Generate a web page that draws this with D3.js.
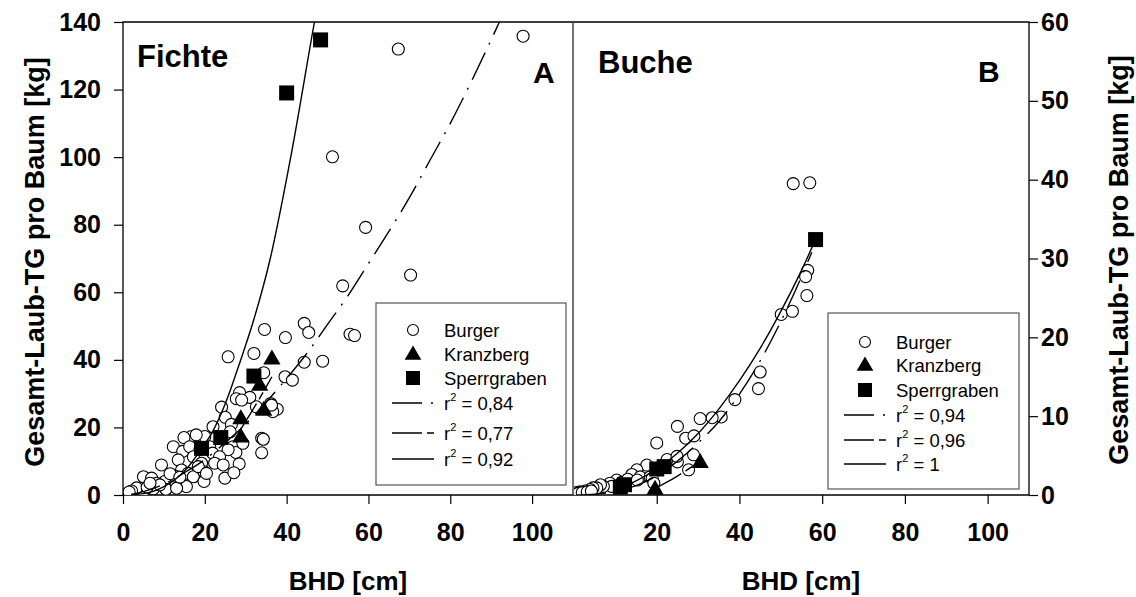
<!DOCTYPE html>
<html>
<head>
<meta charset="utf-8">
<script src="https://cdn.jsdelivr.net/npm/d3@7"></script>
<style>
  body { margin: 0; background: #fff; }
  svg { display: block; font-family: "Liberation Sans", Arial, sans-serif; }
</style>
</head>
<body>
<svg id="chart" width="1136" height="597"></svg>
<script>
// Fichte (A) — BHD [cm], Gesamt-Laub-TG [kg]
var fichteBurger = [
  [67.3,132],[97.8,135.8],[51.2,100.1],[59.3,79.2],[70.3,65.1],[53.7,61.9],
  [34.6,49],[44.3,50.8],[45.4,48.1],[39.7,46.6],[55.5,47.6],[56.6,47.2],
  [25.7,40.9],[32,41.9],[44.3,39.3],[48.8,39.6],[39.6,35],[41.4,34],[34.4,36.2],
  [33.9,16.8],[34.3,16.5],[33.9,12.5],[36.1,27.1],[37.7,25.4],[36.6,24.7],
  [24.1,26],[28.5,30.3],[27.7,28.5],[31,28.9],[29,28.1],[32.6,26.1],[36.3,26.6],
  [25,23],[22,20.2],[26.5,20.9],[20,17.3],[16.7,17.3],[17.9,17.8],[14.9,17],
  [12.3,14.3],[14.6,12.9],[16.3,14.3],[21.2,14.3],[18.8,13.4],[21.9,12.4],
  [26.9,14.3],[27.6,12.6],[25.7,13.4],[29.3,15.3],[26.2,18.7],[23.6,11.3],[17.2,11.3],
  [19.2,9.4],[22.4,9.4],[24.5,8.9],[28.4,9.2],[9.4,8.9],[13.5,10.4],[14.3,7.4],
  [15.9,6.4],[17.2,5.4],[19.8,6.9],[24.9,5],[27.1,6.6],[19.8,4],[15.5,2.5],
  [12.3,3],[12.7,5.6],[10.2,4],[5,5.4],[7,5],[8.2,3.5],[7.4,1.8],[4.8,0.8],
  [3.3,2.1],[2.1,1.2],[1.5,0.9],[5.9,2.3],[10.5,1.7],[13.1,2],[9,3],[11.5,6.3],
  [6.6,3.5],[13.9,5.3],[18.4,8.4],[20.4,6.4]
];
var fichteKranzberg = [[28.8,17.3],[28.8,22.7],[33.4,32.6],[34.4,25.2],[36.4,40.4]];
var fichteSperrgraben = [[19.2,13.8],[23.9,17],[32,35.2],[40,119],[48.3,134.7]];

var fichteFitBurger = [[2,0.2],[5,1],[10,3.2],[15,6.6],[20,10.5],[25,15.5],[30,21],[35,27.5],
  [40,34.5],[45,42],[50,50.5],[55,59],[60,68.5],[65,78],[70,88],[75,99],[80,110],[85,122],[92,140],[95,148]];
var fichteFitKranzberg = [[28.8,19.5],[31,23.8],[33,27.8],[35,32],[36.4,35]];
var fichteFitSperrgraben = [[2,0.1],[5,0.4],[10,2.5],[15,7],[19,13.4],[22,19],[25,27],[28.5,39],
  [32,52],[36,70],[41,100],[46.8,140],[48,148]];

// Buche (B)
var bucheBurger = [
  [53,39.5],[57,39.6],[56.5,28.5],[56,27.7],[56.3,25.3],[50.1,22.9],[52.8,23.3],
  [45,15.6],[44.6,13.5],[38.9,12.1],[35.6,9.9],[33.4,9.8],[30.5,9.7],[25,8.7],
  [27,7.2],[29,7.5],[20,6.6],[28.9,5.1],[25,4.2],[22.5,4.5],[27.7,3.2],[17.6,3.8],
  [15.2,3.2],[14,2.6],[16,2.3],[18.4,2.3],[18.9,2.1],[19.3,1.5],[10.3,1.9],[8.7,1.5],
  [9.1,1.1],[7.1,1.1],[6.4,1.3],[5.5,0.9],[4.6,0.9],[3.9,0.7],[2.7,0.5],[1.5,0.4],
  [0.6,0.3],[1,0.2],[2,0.3],[3.2,0.4],[4.2,0.5],[11.5,1.6],[13,2],[15.3,1.9],[24.9,4.9]
];
var bucheKranzberg = [[19.6,0.8],[30.5,4.2]];
var bucheSperrgraben = [[11.2,1.0],[12.2,1.3],[20,3.3],[21.8,3.6],[58.4,32.4]];

var bucheFitBurger = [[0.5,0],[5,0.1],[10,0.45],[15,1.2],[20,2.4],[25,4.3],[30,6.6],[35,9.3],
  [40,12.8],[45,17],[50,22],[55,27.7],[57.5,30.8]];
var bucheFitKranzberg = [[19.6,0.85],[22,1.5],[25,2.4],[28,3.4],[30.7,4.3]];
var bucheFitSperrgraben = [[11,0.93],[15,1.8],[20,3.3],[25,5.3],[30,7.8],[35,10.9],[40,14.5],
  [45,18.6],[50,23.3],[55,28.5],[58.4,32.4]];

var xTicksA = [0, 20, 40, 60, 80, 100];
var xTicksB = [20, 40, 60, 80, 100];
var yTicksA = [0, 20, 40, 60, 80, 100, 120, 140];
var yTicksB = [0, 10, 20, 30, 40, 50, 60];

var legendNames = ['Burger', 'Kranzberg', 'Sperrgraben'];
var r2A = ['0,84', '0,77', '0,92'];
var r2B = ['0,94', '0,96', '1'];

var dashBurger = '30,9,2,9';
var dashKranz = '30,5,8,5';

var svg = d3.select('#chart');
var plotTop = 22, plotBottom = 495;

var xA = d3.scaleLinear().domain([0, 110]).range([123, 573]);
var yA = d3.scaleLinear().domain([0, 140]).range([plotBottom, plotTop]);
var xB = d3.scaleLinear().domain([0, 110]).range([574, 1029]);
var yB = d3.scaleLinear().domain([0, 60]).range([plotBottom, plotTop]);

var defs = svg.append('defs');
defs.append('clipPath').attr('id', 'clipA').append('rect')
  .attr('x', 123).attr('y', plotTop).attr('width', 450).attr('height', plotBottom - plotTop);
defs.append('clipPath').attr('id', 'clipB').append('rect')
  .attr('x', 574).attr('y', plotTop).attr('width', 455).attr('height', plotBottom - plotTop);

function styleAxis(g) {
  g.select('.domain').remove();
  g.selectAll('line').attr('stroke', '#000').attr('stroke-width', 1.2);
  g.selectAll('text').attr('font-size', 25).attr('font-weight', 'bold')
    .attr('fill', '#000').attr('font-family', '"Liberation Sans", Arial, sans-serif');
}

// axes
svg.append('g').attr('transform', 'translate(0,' + plotBottom + ')')
  .call(d3.axisBottom(xA).tickValues(xTicksA).tickSize(9).tickPadding(19).tickSizeOuter(0))
  .call(styleAxis);
svg.append('g').attr('transform', 'translate(0,' + plotBottom + ')')
  .call(d3.axisBottom(xB).tickValues(xTicksB).tickSize(9).tickPadding(19).tickSizeOuter(0))
  .call(styleAxis);
svg.append('g').attr('transform', 'translate(123,0)')
  .call(d3.axisLeft(yA).tickValues(yTicksA).tickSize(9).tickPadding(13).tickSizeOuter(0))
  .call(styleAxis);
svg.append('g').attr('transform', 'translate(1029,0)')
  .call(d3.axisRight(yB).tickValues(yTicksB).tickSize(9).tickPadding(3).tickSizeOuter(0))
  .call(styleAxis);

// frame
var frame = svg.append('g').attr('fill', 'none');
frame.append('path').attr('d', 'M123,' + plotTop + 'H1029V' + plotBottom + 'H123Z')
  .attr('stroke', '#000').attr('stroke-width', 1.3);
frame.append('line').attr('x1', 573).attr('x2', 573).attr('y1', plotTop).attr('y2', plotBottom)
  .attr('stroke', '#444').attr('stroke-width', 1.5);

function drawPanel(x, y, clipId, burger, kranz, sperr, fitB, fitK, fitS) {
  var g = svg.append('g').attr('clip-path', 'url(#' + clipId + ')');
  var line = d3.line().x(function(d) { return x(d[0]); }).y(function(d) { return y(d[1]); })
    .curve(d3.curveMonotoneX);

  g.selectAll('circle.burger').data(burger).enter().append('circle')
    .attr('class', 'burger')
    .attr('cx', function(d) { return x(d[0]); })
    .attr('cy', function(d) { return y(d[1]); })
    .attr('r', 6).attr('fill', '#fff').attr('stroke', '#000').attr('stroke-width', 1.1);

  g.append('path').datum(fitB).attr('d', line).attr('fill', 'none')
    .attr('stroke', '#000').attr('stroke-width', 1.4).attr('stroke-dasharray', dashBurger);
  g.append('path').datum(fitK).attr('d', line).attr('fill', 'none')
    .attr('stroke', '#000').attr('stroke-width', 1.4).attr('stroke-dasharray', dashKranz);
  g.append('path').datum(fitS).attr('d', line).attr('fill', 'none')
    .attr('stroke', '#000').attr('stroke-width', 1.4);

  g.selectAll('path.kranz').data(kranz).enter().append('path')
    .attr('class', 'kranz')
    .attr('d', d3.symbol().type(d3.symbolTriangle).size(130))
    .attr('transform', function(d) { return 'translate(' + x(d[0]) + ',' + (y(d[1]) + 1) + ')'; })
    .attr('fill', '#000');

  g.selectAll('rect.sperr').data(sperr).enter().append('rect')
    .attr('class', 'sperr')
    .attr('x', function(d) { return x(d[0]) - 7.5; })
    .attr('y', function(d) { return y(d[1]) - 7.5; })
    .attr('width', 15).attr('height', 15).attr('fill', '#000');
}

drawPanel(xA, yA, 'clipA', fichteBurger, fichteKranzberg, fichteSperrgraben,
  fichteFitBurger, fichteFitKranzberg, fichteFitSperrgraben);
drawPanel(xB, yB, 'clipB', bucheBurger, bucheKranzberg, bucheSperrgraben,
  bucheFitBurger, bucheFitKranzberg, bucheFitSperrgraben);

// legends
function drawLegend(box, rows, r2) {
  var g = svg.append('g');
  g.append('rect').attr('x', box[0]).attr('y', box[1]).attr('width', box[2]).attr('height', box[3])
    .attr('fill', '#fff').attr('stroke', '#555').attr('stroke-width', 1.2);
  var mx = box[0] + 37, lx0 = box[0] + 16, lx1 = box[0] + 58, tx = box[0] + 68;

  g.append('circle').attr('cx', mx).attr('cy', rows[0]).attr('r', 5.5)
    .attr('fill', '#fff').attr('stroke', '#000').attr('stroke-width', 1.1);
  g.append('path').attr('d', d3.symbol().type(d3.symbolTriangle).size(120))
    .attr('transform', 'translate(' + mx + ',' + (rows[1] + 1) + ')').attr('fill', '#000');
  g.append('rect').attr('x', mx - 7).attr('y', rows[2] - 7).attr('width', 14).attr('height', 14)
    .attr('fill', '#000');

  var dashes = [dashBurger, dashKranz, null];
  for (var i = 0; i < 3; i++) {
    var ln = g.append('line').attr('x1', lx0).attr('x2', lx1)
      .attr('y1', rows[3 + i]).attr('y2', rows[3 + i])
      .attr('stroke', '#000').attr('stroke-width', 1.4);
    if (dashes[i]) ln.attr('stroke-dasharray', dashes[i]);
  }

  legendNames.forEach(function(n, i) {
    g.append('text').attr('x', tx).attr('y', rows[i] + 7).attr('font-size', 18.5).text(n);
  });
  r2.forEach(function(v, i) {
    var t = g.append('text').attr('x', tx).attr('y', rows[3 + i] + 7).attr('font-size', 18.5);
    t.append('tspan').text('r');
    t.append('tspan').attr('font-size', 11).attr('dy', -9).text('2');
    t.append('tspan').attr('dy', 9).text(' = ' + v);
  });
}

drawLegend([376, 303, 190, 182], [330, 354, 378, 403, 433, 459], r2A);
drawLegend([828, 313, 191, 176], [342, 365, 390, 415, 440, 464], r2B);

// panel labels
function label(x, y, txt, size) {
  svg.append('text').attr('x', x).attr('y', y).attr('font-size', size)
    .attr('font-weight', 'bold').text(txt);
}
label(137, 67, 'Fichte', 31);
label(533, 83, 'A', 30);
label(598, 73, 'Buche', 31);
label(978, 82, 'B', 30);

// axis titles
svg.append('text').attr('x', 348).attr('y', 590).attr('text-anchor', 'middle')
  .attr('font-size', 26).attr('font-weight', 'bold').text('BHD [cm]');
svg.append('text').attr('x', 801).attr('y', 590).attr('text-anchor', 'middle')
  .attr('font-size', 26).attr('font-weight', 'bold').text('BHD [cm]');

var yTitle = 'Gesamt-Laub-TG pro Baum [kg]';
svg.append('text').attr('transform', 'translate(44,262) rotate(-90)')
  .attr('text-anchor', 'middle').attr('font-size', 27).attr('font-weight', 'bold').text(yTitle);
svg.append('text').attr('transform', 'translate(1128,260) rotate(-90)')
  .attr('text-anchor', 'middle').attr('font-size', 27).attr('font-weight', 'bold').text(yTitle);
</script>
</body>
</html>
